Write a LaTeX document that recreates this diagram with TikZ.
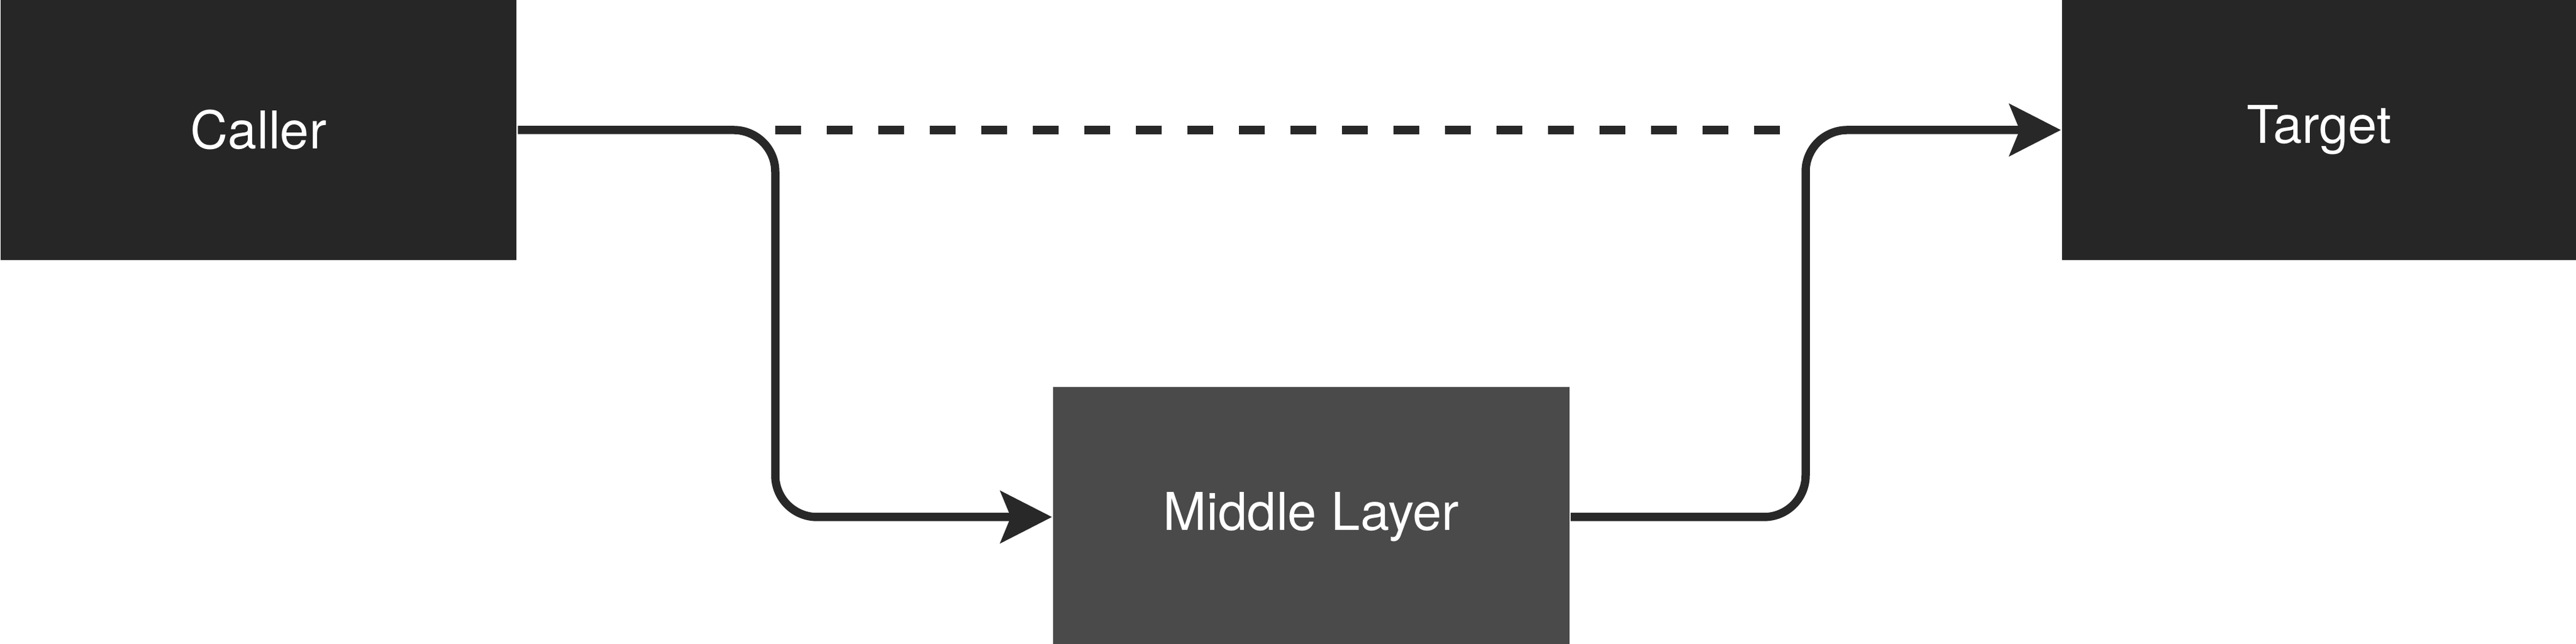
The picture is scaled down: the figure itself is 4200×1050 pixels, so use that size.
\documentclass[tikz,border=0pt]{standalone}
\usepackage{fontspec}
\setmainfont{TeX Gyre Heros}
\usetikzlibrary{arrows.meta}
\definecolor{boxdark}{HTML}{262626}
\definecolor{boxmid}{HTML}{4A4A4A}
\definecolor{linedark}{HTML}{282828}
\begin{document}
\begin{tikzpicture}[x=0.1pt,y=-0.1pt,
  box/.style={rectangle, inner sep=0pt, draw=none, text=white,
    font=\fontsize{8.5pt}{10pt}\selectfont,
    minimum width=84.2pt, minimum height=42.4pt},
  conn/.style={draw=linedark, line width=1.35pt, rounded corners=6.8pt},
  tip/.style={-{Stealth[length=8.5pt,width=8.7pt,inset=1.8pt,line width=0pt]}},
  dashline/.style={draw=linedark, line width=1.35pt, dash pattern=on 4.2pt off 4.2pt}]
  \useasboundingbox (0,0) rectangle (4200,1050);
  \node[box, fill=boxdark] (caller) at (421.5,212) {Caller};
  \node[box, fill=boxdark, minimum width=83.8pt] (target) at (3781,212) {Target};
  \node[box, fill=boxmid] (middle) at (2138,843) {Middle Layer};
  \coordinate (lv) at (1264,0);
  \coordinate (rv) at (2944,0);
  \coordinate (dashend) at (2902,212);
  % dashed direct call
  \draw[dashline] (caller.east -| lv) -- (dashend);
  % caller -> middle
  \draw[conn, tip] (caller.east) -- (caller.east -| lv) -- (middle.west -| lv) -- (middle.west);
  % middle -> target
  \draw[conn, tip] (middle.east) -- (middle.east -| rv) -- (target.west -| rv) -- (target.west);
\end{tikzpicture}
\end{document}
